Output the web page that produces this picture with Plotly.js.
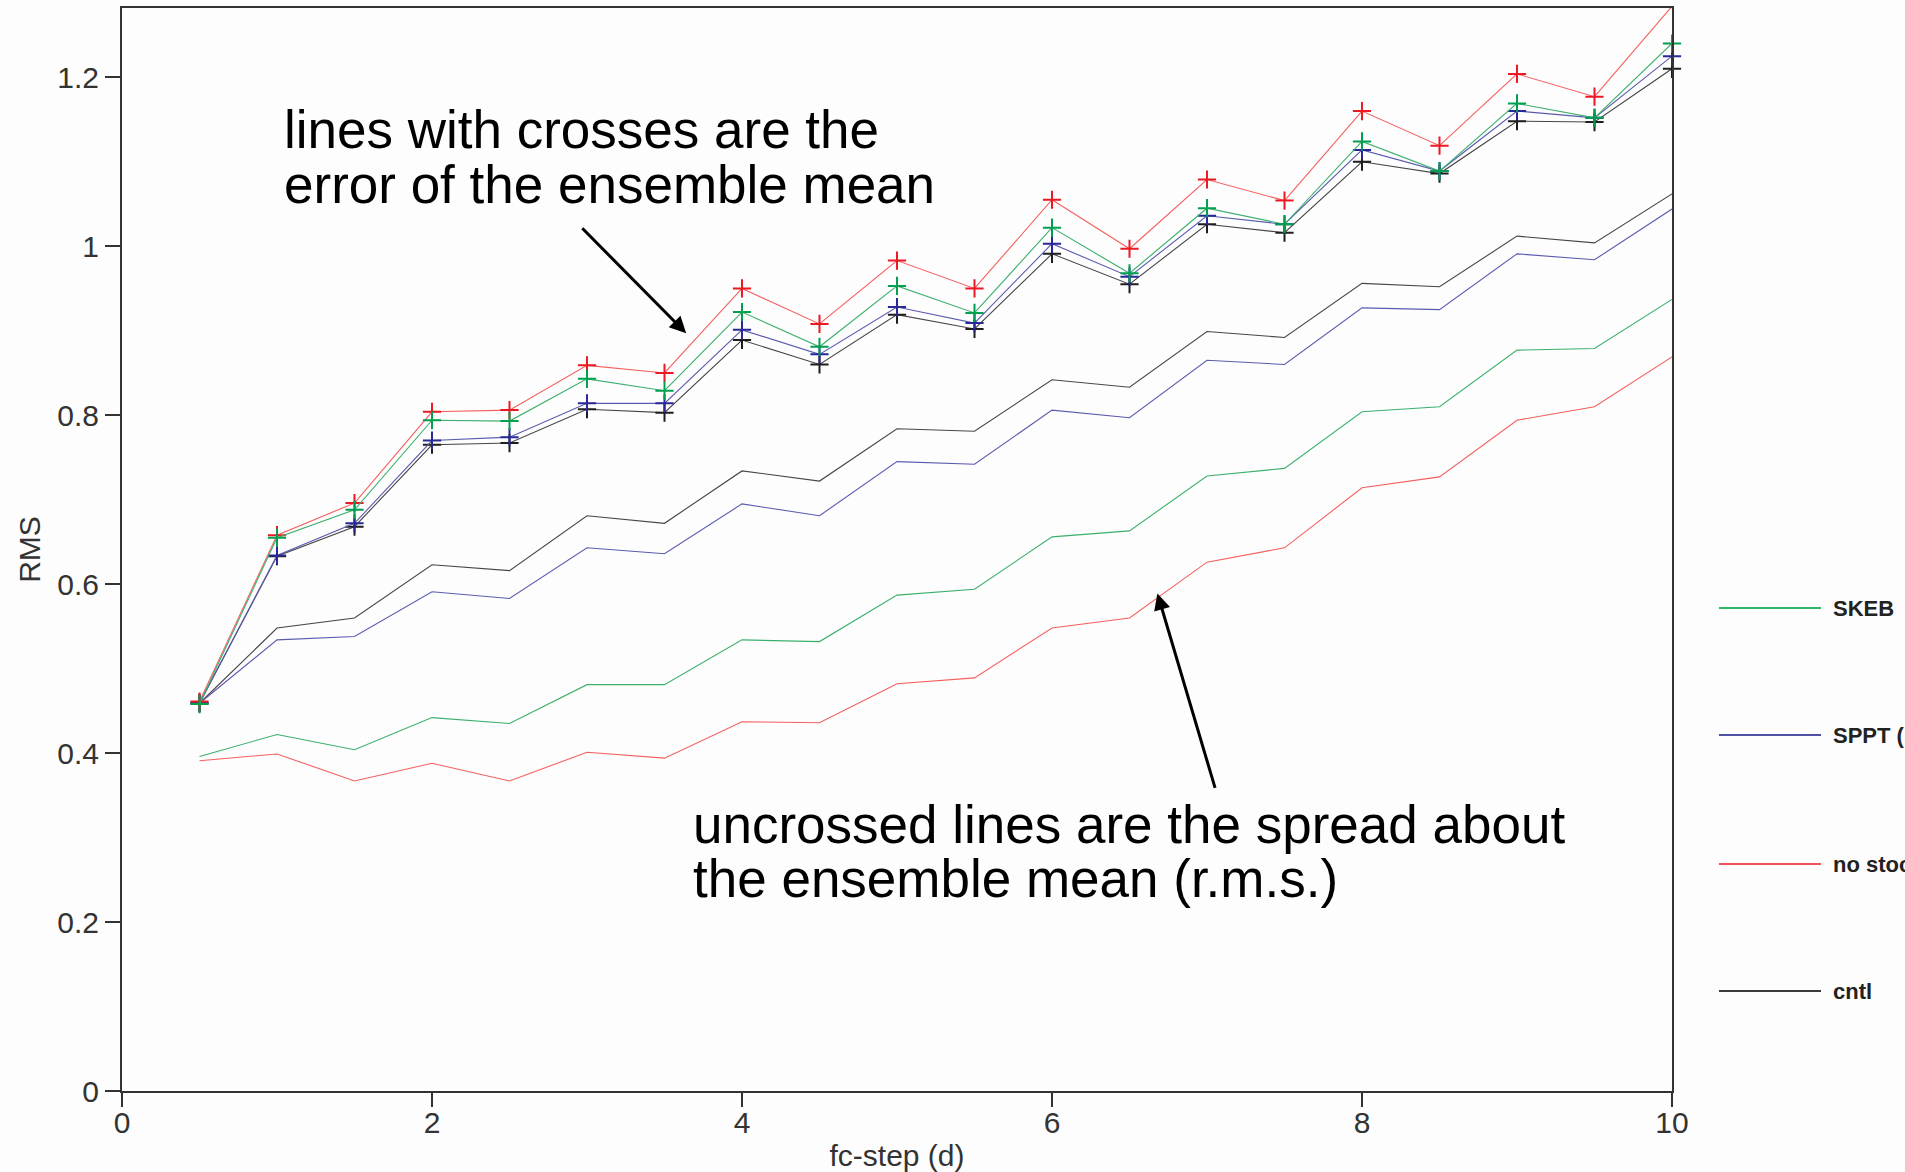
<!DOCTYPE html>
<html>
<head>
<meta charset="utf-8">
<script src="https://cdn.plot.ly/plotly-3.0.1.min.js"></script>
<style>
  html, body { margin: 0; padding: 0; background: #fcfdfc; overflow: hidden; }
  #chart { width: 1905px; height: 1172px; }
</style>
</head>
<body>
<div id="chart"></div>
<script>
// Forecast step in days
const steps = [0.5, 1, 1.5, 2, 2.5, 3, 3.5, 4, 4.5, 5, 5.5, 6, 6.5, 7, 7.5, 8, 8.5, 9, 9.5, 10];

// RMS error of the ensemble mean
const errSKEB    = [0.458, 0.655, 0.688, 0.794, 0.793, 0.843, 0.829, 0.922, 0.881, 0.953, 0.921, 1.022, 0.968, 1.045, 1.026, 1.124, 1.089, 1.169, 1.152, 1.240];
const errSPPT    = [0.459, 0.634, 0.672, 0.770, 0.774, 0.814, 0.814, 0.901, 0.872, 0.928, 0.909, 1.003, 0.964, 1.036, 1.026, 1.114, 1.089, 1.160, 1.152, 1.225];
const errNoStoch = [0.461, 0.658, 0.696, 0.804, 0.806, 0.859, 0.850, 0.950, 0.908, 0.983, 0.950, 1.055, 0.997, 1.079, 1.054, 1.160, 1.119, 1.204, 1.177, 1.284];
const errCntl    = [0.459, 0.633, 0.668, 0.765, 0.767, 0.807, 0.803, 0.889, 0.860, 0.919, 0.902, 0.991, 0.955, 1.026, 1.016, 1.100, 1.086, 1.148, 1.147, 1.210];

// Ensemble spread about the mean (r.m.s.)
const sprSKEB    = [0.396, 0.422, 0.404, 0.442, 0.435, 0.481, 0.481, 0.534, 0.532, 0.587, 0.594, 0.656, 0.663, 0.728, 0.737, 0.804, 0.810, 0.877, 0.879, 0.937];
const sprSPPT    = [0.459, 0.534, 0.538, 0.591, 0.583, 0.643, 0.636, 0.695, 0.681, 0.745, 0.742, 0.806, 0.797, 0.865, 0.860, 0.927, 0.925, 0.991, 0.984, 1.044];
const sprNoStoch = [0.391, 0.399, 0.367, 0.388, 0.367, 0.401, 0.394, 0.437, 0.436, 0.482, 0.489, 0.548, 0.560, 0.626, 0.643, 0.714, 0.727, 0.794, 0.810, 0.869];
const sprCntl    = [0.459, 0.548, 0.560, 0.623, 0.616, 0.681, 0.672, 0.734, 0.722, 0.784, 0.781, 0.842, 0.833, 0.899, 0.892, 0.956, 0.952, 1.012, 1.004, 1.062];

const yTicks = [0, 0.2, 0.4, 0.6, 0.8, 1, 1.2];
const xTicks = [0, 2, 4, 6, 8, 10];

// Legend order (top to bottom) and the label of each configuration
const configNames = ['SKEB', 'SPPT (pert)', 'no stoch', 'cntl'];

const cfg = {
  'cntl':        { err: errCntl,    spr: sprCntl,    line: 'rgb(70,70,70)',   mark: 'rgb(30,30,30)',  key: 'rgb(60,60,60)' },
  'SPPT (pert)': { err: errSPPT,    spr: sprSPPT,    line: 'rgb(90,90,175)',  mark: 'rgb(40,40,150)', key: 'rgb(80,80,165)' },
  'no stoch':    { err: errNoStoch, spr: sprNoStoch, line: 'rgb(245,95,95)',  mark: 'rgb(235,25,35)', key: 'rgb(240,80,90)' },
  'SKEB':        { err: errSKEB,    spr: sprSKEB,    line: 'rgb(60,175,110)', mark: 'rgb(0,160,80)',  key: 'rgb(45,185,105)' }
};

const drawOrder = ['cntl', 'SPPT (pert)', 'no stoch', 'SKEB'];
const traces = [];

drawOrder.forEach(name => {
  const c = cfg[name];
  traces.push({
    x: steps, y: c.spr, type: 'scatter', mode: 'lines', name: name,
    line: { color: c.line, width: 1.1 }, hoverinfo: 'x+y+name'
  });
});
drawOrder.forEach(name => {
  const c = cfg[name];
  traces.push({
    x: steps, y: c.err, type: 'scatter', mode: 'lines+markers', name: name + ' error',
    line: { color: c.line, width: 1.1 },
    marker: { symbol: 'cross-thin', size: 13, color: c.mark, line: { color: c.mark, width: 2 } },
    cliponaxis: false
  });
});

// Plot frame geometry (pixels)
const W = 1905, H = 1172;
const M = { l: 122, r: 233, t: 8, b: 81 };
const plotW = W - M.l - M.r;
const plotH = H - M.t - M.b;
const px = X => (X - M.l) / plotW;          // page x -> paper x
const py = Y => (H - M.b - Y) / plotH;      // page y -> paper y

const legendRows = [608, 735, 864, 991];
const shapes = [];
const annotations = [];

configNames.forEach((name, i) => {
  const yy = py(legendRows[i]);
  shapes.push({
    type: 'line', xref: 'paper', yref: 'paper',
    x0: px(1719), x1: px(1821), y0: yy, y1: yy,
    line: { color: cfg[name].key, width: 2.2 }
  });
  annotations.push({
    xref: 'paper', yref: 'paper', x: px(1831), y: yy,
    xanchor: 'left', yanchor: 'middle', showarrow: false,
    text: name,
    font: { family: 'Liberation Sans, Arial, sans-serif', size: 22, weight: 'bold', color: '#222' }
  });
});

const noteFont = { family: 'Liberation Sans, Arial, sans-serif', size: 53, color: '#000' };

// Explanatory notes, one annotation per text line
[
  { text: 'lines with crosses are the', x: 1.03, y: 1.138 },
  { text: 'error of the ensemble mean', x: 1.03, y: 1.073 },
  { text: 'uncrossed lines are the spread about', x: 3.67, y: 0.315 },
  { text: 'the ensemble mean (r.m.s.)', x: 3.67, y: 0.252 }
].forEach(n => annotations.push({
  xref: 'x', yref: 'y', x: n.x, y: n.y, xanchor: 'left', yanchor: 'middle',
  showarrow: false, text: n.text, font: noteFont
}));

// Arrows pointing at the two groups of lines
annotations.push({
  xref: 'x', yref: 'y', x: 3.64, y: 0.897, axref: 'x', ayref: 'y', ax: 2.96, ay: 1.023,
  text: '', showarrow: true, arrowhead: 2, arrowsize: 1.1, arrowwidth: 3, arrowcolor: '#000'
});
annotations.push({
  xref: 'x', yref: 'y', x: 6.68, y: 0.589, axref: 'x', ayref: 'y', ax: 7.055, ay: 0.357,
  text: '', showarrow: true, arrowhead: 2, arrowsize: 1.1, arrowwidth: 3, arrowcolor: '#000'
});

const axisFont = { family: 'Liberation Sans, Arial, sans-serif', size: 30, color: '#333' };

const layout = {
  width: W, height: H,
  margin: M,
  paper_bgcolor: '#fcfdfc',
  plot_bgcolor: '#fcfdfc',
  showlegend: false,
  xaxis: {
    range: [0, 10], tickvals: xTicks, ticktext: xTicks.map(String),
    showgrid: false, zeroline: false,
    showline: true, linecolor: '#333', linewidth: 2, mirror: true,
    ticks: 'outside', ticklen: 14, tickwidth: 2, tickcolor: '#333',
    ticklabelstandoff: -10,
    tickfont: axisFont,
    title: { text: 'fc-step (d)', font: axisFont, standoff: 16 }
  },
  yaxis: {
    range: [0, 1.282], tickvals: yTicks, ticktext: yTicks.map(String),
    showgrid: false, zeroline: false,
    showline: true, linecolor: '#333', linewidth: 2, mirror: true,
    ticks: 'outside', ticklen: 15, tickwidth: 2, tickcolor: '#333',
    tickfont: axisFont,
    title: { text: 'RMS', font: axisFont, standoff: 8 }
  },
  shapes: shapes,
  annotations: annotations
};

Plotly.newPlot('chart', traces, layout, { displayModeBar: false, staticPlot: true });
</script>
</body>
</html>
